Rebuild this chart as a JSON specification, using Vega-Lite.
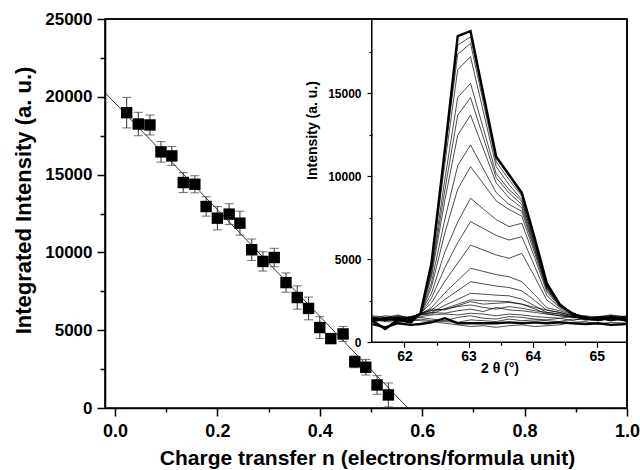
{
"$schema":"https://vega.github.io/schema/vega-lite/v6.json",
"width":522,"height":389,
"autosize":{"type":"none"},
"padding":{"left":105,"top":19,"right":13,"bottom":62},
"background":"white",
"config":{
 "view":{"stroke":"black","strokeWidth":1.6},
 "font":"Liberation Sans",
 "axis":{"labelFont":"Liberation Sans","labelFontWeight":"bold","titleFont":"Liberation Sans","titleFontWeight":"bold","labelColor":"black","titleColor":"black","tickColor":"black","tickWidth":1.5,"domain":false,"domainColor":"black","domainWidth":1.6,"grid":false,"labelFlush":false,"labelOverlap":false}
},
"datasets":{
 "main":[
  {"n":0.0228,"I":18980,"e":980},{"n":0.0455,"I":18250,"e":750},{"n":0.0683,"I":18190,"e":640},{"n":0.0898,"I":16460,"e":660},
  {"n":0.111,"I":16200,"e":610},{"n":0.1333,"I":14490,"e":640},{"n":0.156,"I":14380,"e":550},{"n":0.178,"I":12950,"e":620},
  {"n":0.2,"I":12200,"e":750},{"n":0.223,"I":12460,"e":670},{"n":0.244,"I":11880,"e":770},{"n":0.267,"I":10170,"e":690},
  {"n":0.289,"I":9420,"e":620},{"n":0.311,"I":9670,"e":590},{"n":0.334,"I":8060,"e":620},{"n":0.356,"I":7100,"e":750},
  {"n":0.378,"I":6400,"e":730},{"n":0.4,"I":5170,"e":700},{"n":0.4215,"I":4460,"e":250},{"n":0.4455,"I":4760,"e":480},
  {"n":0.4683,"I":2970,"e":380},{"n":0.4898,"I":2620,"e":500},{"n":0.5118,"I":1480,"e":600},{"n":0.534,"I":840,"e":770}
 ],
 "fit":[{"n":-0.0195,"I":20270},{"n":0.572,"I":0}],
 "frame":[{"n":-0.0195,"n2":1.0,"I":25000,"I2":25000},{"n":1.0,"n2":1.0,"I":0,"I2":25000}],
 "iframe":[{"t":61.49,"t2":61.49,"i":0,"i2":19476},{"t":61.49,"t2":65.47,"i":0,"i2":0}],
 "xrd":[
{"c":1,"t":61.5,"i":1100},{"c":1,"t":61.7,"i":900},{"c":1,"t":61.9,"i":1150},{"c":1,"t":62.1,"i":1050},{"c":1,"t":62.25,"i":1100},{"c":1,"t":62.42,"i":1200},{"c":1,"t":62.63,"i":1450},{"c":1,"t":62.83,"i":1150},{"c":1,"t":63.03,"i":1150},{"c":1,"t":63.23,"i":1150},{"c":1,"t":63.43,"i":1150},{"c":1,"t":63.63,"i":1200},{"c":1,"t":63.83,"i":1150},{"c":1,"t":64.03,"i":1200},{"c":1,"t":64.22,"i":1150},{"c":1,"t":64.42,"i":1200},{"c":1,"t":64.62,"i":1150},{"c":1,"t":64.82,"i":1100},{"c":1,"t":65.02,"i":1150},{"c":1,"t":65.22,"i":1050},{"c":1,"t":65.47,"i":1100},
{"c":2,"t":61.5,"i":1500},{"c":2,"t":61.7,"i":1350},{"c":2,"t":61.9,"i":1450},{"c":2,"t":62.1,"i":1300},{"c":2,"t":62.25,"i":1400},{"c":2,"t":62.42,"i":1300},{"c":2,"t":62.63,"i":1250},{"c":2,"t":62.83,"i":1200},{"c":2,"t":63.03,"i":1350},{"c":2,"t":63.23,"i":1300},{"c":2,"t":63.43,"i":1250},{"c":2,"t":63.63,"i":1400},{"c":2,"t":63.83,"i":1300},{"c":2,"t":64.03,"i":1350},{"c":2,"t":64.22,"i":1300},{"c":2,"t":64.42,"i":1250},{"c":2,"t":64.62,"i":1400},{"c":2,"t":64.82,"i":1350},{"c":2,"t":65.02,"i":1300},{"c":2,"t":65.22,"i":1450},{"c":2,"t":65.47,"i":1350},
{"c":3,"t":61.5,"i":1200},{"c":3,"t":61.7,"i":1400},{"c":3,"t":61.9,"i":1250},{"c":3,"t":62.1,"i":1450},{"c":3,"t":62.25,"i":1500},{"c":3,"t":62.42,"i":1400},{"c":3,"t":62.63,"i":1300},{"c":3,"t":62.83,"i":1500},{"c":3,"t":63.03,"i":1600},{"c":3,"t":63.23,"i":1450},{"c":3,"t":63.43,"i":1400},{"c":3,"t":63.63,"i":1550},{"c":3,"t":63.83,"i":1500},{"c":3,"t":64.03,"i":1400},{"c":3,"t":64.22,"i":1350},{"c":3,"t":64.42,"i":1450},{"c":3,"t":64.62,"i":1300},{"c":3,"t":64.82,"i":1500},{"c":3,"t":65.02,"i":1400},{"c":3,"t":65.22,"i":1300},{"c":3,"t":65.47,"i":1450},
{"c":4,"t":61.5,"i":1600},{"c":4,"t":61.7,"i":1500},{"c":4,"t":61.9,"i":1650},{"c":4,"t":62.1,"i":1400},{"c":4,"t":62.25,"i":1550},{"c":4,"t":62.42,"i":1650},{"c":4,"t":62.63,"i":1700},{"c":4,"t":62.83,"i":1650},{"c":4,"t":63.03,"i":1750},{"c":4,"t":63.23,"i":1700},{"c":4,"t":63.43,"i":1600},{"c":4,"t":63.63,"i":1700},{"c":4,"t":63.83,"i":1650},{"c":4,"t":64.03,"i":1550},{"c":4,"t":64.22,"i":1500},{"c":4,"t":64.42,"i":1450},{"c":4,"t":64.62,"i":1550},{"c":4,"t":64.82,"i":1400},{"c":4,"t":65.02,"i":1550},{"c":4,"t":65.22,"i":1650},{"c":4,"t":65.47,"i":1500},
{"c":5,"t":61.5,"i":1350},{"c":5,"t":61.7,"i":1250},{"c":5,"t":61.9,"i":1200},{"c":5,"t":62.1,"i":1350},{"c":5,"t":62.25,"i":1300},{"c":5,"t":62.42,"i":1250},{"c":5,"t":62.63,"i":1150},{"c":5,"t":62.83,"i":1050},{"c":5,"t":63.03,"i":950},{"c":5,"t":63.23,"i":1000},{"c":5,"t":63.43,"i":900},{"c":5,"t":63.63,"i":1000},{"c":5,"t":63.83,"i":1050},{"c":5,"t":64.03,"i":950},{"c":5,"t":64.22,"i":1000},{"c":5,"t":64.42,"i":1050},{"c":5,"t":64.62,"i":1200},{"c":5,"t":64.82,"i":1250},{"c":5,"t":65.02,"i":1100},{"c":5,"t":65.22,"i":1200},{"c":5,"t":65.47,"i":1150},
{"c":6,"t":61.5,"i":1450},{"c":6,"t":61.7,"i":1600},{"c":6,"t":61.9,"i":1500},{"c":6,"t":62.1,"i":1550},{"c":6,"t":62.25,"i":1650},{"c":6,"t":62.42,"i":1800},{"c":6,"t":62.63,"i":1750},{"c":6,"t":62.83,"i":1900},{"c":6,"t":63.03,"i":2000},{"c":6,"t":63.23,"i":1850},{"c":6,"t":63.43,"i":2100},{"c":6,"t":63.63,"i":1950},{"c":6,"t":63.83,"i":1900},{"c":6,"t":64.03,"i":1800},{"c":6,"t":64.22,"i":1700},{"c":6,"t":64.42,"i":1600},{"c":6,"t":64.62,"i":1550},{"c":6,"t":64.82,"i":1600},{"c":6,"t":65.02,"i":1500},{"c":6,"t":65.22,"i":1600},{"c":6,"t":65.47,"i":1550},
{"c":7,"t":61.5,"i":1300},{"c":7,"t":61.7,"i":1450},{"c":7,"t":61.9,"i":1400},{"c":7,"t":62.1,"i":1500},{"c":7,"t":62.25,"i":1700},{"c":7,"t":62.42,"i":1900},{"c":7,"t":62.63,"i":2000},{"c":7,"t":62.83,"i":2150},{"c":7,"t":63.03,"i":2250},{"c":7,"t":63.23,"i":2100},{"c":7,"t":63.43,"i":2000},{"c":7,"t":63.63,"i":2150},{"c":7,"t":63.83,"i":2050},{"c":7,"t":64.03,"i":1900},{"c":7,"t":64.22,"i":1800},{"c":7,"t":64.42,"i":1700},{"c":7,"t":64.62,"i":1500},{"c":7,"t":64.82,"i":1450},{"c":7,"t":65.02,"i":1550},{"c":7,"t":65.22,"i":1400},{"c":7,"t":65.47,"i":1500},
{"c":8,"t":61.5,"i":1550},{"c":8,"t":61.7,"i":1400},{"c":8,"t":61.9,"i":1600},{"c":8,"t":62.1,"i":1450},{"c":8,"t":62.25,"i":1700},{"c":8,"t":62.42,"i":2000},{"c":8,"t":62.63,"i":1950},{"c":8,"t":62.83,"i":2200},{"c":8,"t":63.03,"i":2450},{"c":8,"t":63.23,"i":2300},{"c":8,"t":63.43,"i":2350},{"c":8,"t":63.63,"i":2400},{"c":8,"t":63.83,"i":2300},{"c":8,"t":64.03,"i":2100},{"c":8,"t":64.22,"i":1950},{"c":8,"t":64.42,"i":1800},{"c":8,"t":64.62,"i":1600},{"c":8,"t":64.82,"i":1550},{"c":8,"t":65.02,"i":1450},{"c":8,"t":65.22,"i":1600},{"c":8,"t":65.47,"i":1450},
{"c":9,"t":61.5,"i":1400},{"c":9,"t":61.7,"i":1300},{"c":9,"t":61.9,"i":1450},{"c":9,"t":62.1,"i":1350},{"c":9,"t":62.25,"i":1650},{"c":9,"t":62.42,"i":1710},{"c":9,"t":62.63,"i":2030},{"c":9,"t":62.83,"i":2290},{"c":9,"t":63.03,"i":2550},{"c":9,"t":63.23,"i":2510},{"c":9,"t":63.43,"i":2480},{"c":9,"t":63.63,"i":2450},{"c":9,"t":63.83,"i":2300},{"c":9,"t":64.03,"i":2010},{"c":9,"t":64.22,"i":1720},{"c":9,"t":64.42,"i":1600},{"c":9,"t":64.62,"i":1500},{"c":9,"t":64.82,"i":1450},{"c":9,"t":65.02,"i":1350},{"c":9,"t":65.22,"i":1500},{"c":9,"t":65.47,"i":1400},
{"c":10,"t":61.5,"i":1250},{"c":10,"t":61.7,"i":1400},{"c":10,"t":61.9,"i":1300},{"c":10,"t":62.1,"i":1500},{"c":10,"t":62.25,"i":1700},{"c":10,"t":62.42,"i":1790},{"c":10,"t":62.63,"i":2230},{"c":10,"t":62.83,"i":2590},{"c":10,"t":63.03,"i":2950},{"c":10,"t":63.23,"i":2900},{"c":10,"t":63.43,"i":2840},{"c":10,"t":63.63,"i":2800},{"c":10,"t":63.83,"i":2600},{"c":10,"t":64.03,"i":2200},{"c":10,"t":64.22,"i":1800},{"c":10,"t":64.42,"i":1700},{"c":10,"t":64.62,"i":1550},{"c":10,"t":64.82,"i":1350},{"c":10,"t":65.02,"i":1500},{"c":10,"t":65.22,"i":1300},{"c":10,"t":65.47,"i":1400},
{"c":11,"t":61.5,"i":1350},{"c":11,"t":61.7,"i":1500},{"c":11,"t":61.9,"i":1400},{"c":11,"t":62.1,"i":1300},{"c":11,"t":62.25,"i":1750},{"c":11,"t":62.42,"i":1930},{"c":11,"t":62.63,"i":2580},{"c":11,"t":62.83,"i":3110},{"c":11,"t":63.03,"i":3650},{"c":11,"t":63.23,"i":3520},{"c":11,"t":63.43,"i":3390},{"c":11,"t":63.63,"i":3300},{"c":11,"t":63.83,"i":3100},{"c":11,"t":64.03,"i":2520},{"c":11,"t":64.22,"i":1930},{"c":11,"t":64.42,"i":1800},{"c":11,"t":64.62,"i":1600},{"c":11,"t":64.82,"i":1500},{"c":11,"t":65.02,"i":1400},{"c":11,"t":65.22,"i":1550},{"c":11,"t":65.47,"i":1350},
{"c":12,"t":61.5,"i":1500},{"c":12,"t":61.7,"i":1350},{"c":12,"t":61.9,"i":1550},{"c":12,"t":62.1,"i":1400},{"c":12,"t":62.25,"i":1700},{"c":12,"t":62.42,"i":2090},{"c":12,"t":62.63,"i":2980},{"c":12,"t":62.83,"i":3720},{"c":12,"t":63.03,"i":4460},{"c":12,"t":63.23,"i":4270},{"c":12,"t":63.43,"i":4080},{"c":12,"t":63.63,"i":3950},{"c":12,"t":63.83,"i":3650},{"c":12,"t":64.03,"i":2870},{"c":12,"t":64.22,"i":2080},{"c":12,"t":64.42,"i":1900},{"c":12,"t":64.62,"i":1650},{"c":12,"t":64.82,"i":1550},{"c":12,"t":65.02,"i":1300},{"c":12,"t":65.22,"i":1450},{"c":12,"t":65.47,"i":1600},
{"c":13,"t":61.5,"i":1300},{"c":13,"t":61.7,"i":1450},{"c":13,"t":61.9,"i":1350},{"c":13,"t":62.1,"i":1500},{"c":13,"t":62.25,"i":1750},{"c":13,"t":62.42,"i":2370},{"c":13,"t":62.63,"i":3680},{"c":13,"t":62.83,"i":4770},{"c":13,"t":63.03,"i":5860},{"c":13,"t":63.23,"i":5560},{"c":13,"t":63.43,"i":5260},{"c":13,"t":63.63,"i":5060},{"c":13,"t":63.83,"i":5360},{"c":13,"t":64.03,"i":3950},{"c":13,"t":64.22,"i":2540},{"c":13,"t":64.42,"i":2000},{"c":13,"t":64.62,"i":1700},{"c":13,"t":64.82,"i":1400},{"c":13,"t":65.02,"i":1550},{"c":13,"t":65.22,"i":1450},{"c":13,"t":65.47,"i":1300},
{"c":14,"t":61.5,"i":1450},{"c":14,"t":61.7,"i":1300},{"c":14,"t":61.9,"i":1500},{"c":14,"t":62.1,"i":1350},{"c":14,"t":62.25,"i":1700},{"c":14,"t":62.42,"i":2650},{"c":14,"t":62.63,"i":4500},{"c":14,"t":62.83,"i":6000},{"c":14,"t":63.03,"i":7270},{"c":14,"t":63.23,"i":6860},{"c":14,"t":63.43,"i":6440},{"c":14,"t":63.63,"i":6160},{"c":14,"t":63.83,"i":6360},{"c":14,"t":64.03,"i":4590},{"c":14,"t":64.22,"i":2810},{"c":14,"t":64.42,"i":2100},{"c":14,"t":64.62,"i":1750},{"c":14,"t":64.82,"i":1500},{"c":14,"t":65.02,"i":1400},{"c":14,"t":65.22,"i":1350},{"c":14,"t":65.47,"i":1500},
{"c":15,"t":61.5,"i":1350},{"c":15,"t":61.7,"i":1500},{"c":15,"t":61.9,"i":1400},{"c":15,"t":62.1,"i":1450},{"c":15,"t":62.25,"i":1750},{"c":15,"t":62.42,"i":2940},{"c":15,"t":62.63,"i":5450},{"c":15,"t":62.83,"i":7240},{"c":15,"t":63.03,"i":8680},{"c":15,"t":63.23,"i":8030},{"c":15,"t":63.43,"i":7390},{"c":15,"t":63.63,"i":6970},{"c":15,"t":63.83,"i":7170},{"c":15,"t":64.03,"i":5100},{"c":15,"t":64.22,"i":3030},{"c":15,"t":64.42,"i":2150},{"c":15,"t":64.62,"i":1750},{"c":15,"t":64.82,"i":1450},{"c":15,"t":65.02,"i":1500},{"c":15,"t":65.22,"i":1400},{"c":15,"t":65.47,"i":1450},
{"c":16,"t":61.5,"i":1400},{"c":16,"t":61.7,"i":1350},{"c":16,"t":61.9,"i":1550},{"c":16,"t":62.1,"i":1400},{"c":16,"t":62.25,"i":1700},{"c":16,"t":62.42,"i":3320},{"c":16,"t":62.63,"i":6590},{"c":16,"t":62.83,"i":9220},{"c":16,"t":63.03,"i":10580},{"c":16,"t":63.23,"i":9550},{"c":16,"t":63.43,"i":8520},{"c":16,"t":63.63,"i":8000},{"c":16,"t":63.83,"i":7600},{"c":16,"t":64.03,"i":5380},{"c":16,"t":64.22,"i":3150},{"c":16,"t":64.42,"i":2200},{"c":16,"t":64.62,"i":1750},{"c":16,"t":64.82,"i":1550},{"c":16,"t":65.02,"i":1400},{"c":16,"t":65.22,"i":1500},{"c":16,"t":65.47,"i":1350},
{"c":17,"t":61.5,"i":1300},{"c":17,"t":61.7,"i":1450},{"c":17,"t":61.9,"i":1350},{"c":17,"t":62.1,"i":1550},{"c":17,"t":62.25,"i":1700},{"c":17,"t":62.42,"i":3580},{"c":17,"t":62.63,"i":7420},{"c":17,"t":62.83,"i":10640},{"c":17,"t":63.03,"i":11890},{"c":17,"t":63.23,"i":10450},{"c":17,"t":63.43,"i":9020},{"c":17,"t":63.63,"i":8300},{"c":17,"t":63.83,"i":7900},{"c":17,"t":64.03,"i":5570},{"c":17,"t":64.22,"i":3230},{"c":17,"t":64.42,"i":2200},{"c":17,"t":64.62,"i":1800},{"c":17,"t":64.82,"i":1400},{"c":17,"t":65.02,"i":1500},{"c":17,"t":65.22,"i":1600},{"c":17,"t":65.47,"i":1400},
{"c":18,"t":61.5,"i":1450},{"c":18,"t":61.7,"i":1350},{"c":18,"t":61.9,"i":1500},{"c":18,"t":62.1,"i":1300},{"c":18,"t":62.25,"i":1750},{"c":18,"t":62.42,"i":3940},{"c":18,"t":62.63,"i":8570},{"c":18,"t":62.83,"i":12470},{"c":18,"t":63.03,"i":13690},{"c":18,"t":63.23,"i":11650},{"c":18,"t":63.43,"i":9600},{"c":18,"t":63.63,"i":8700},{"c":18,"t":63.83,"i":8100},{"c":18,"t":64.03,"i":5690},{"c":18,"t":64.22,"i":3280},{"c":18,"t":64.42,"i":2250},{"c":18,"t":64.62,"i":1750},{"c":18,"t":64.82,"i":1500},{"c":18,"t":65.02,"i":1350},{"c":18,"t":65.22,"i":1450},{"c":18,"t":65.47,"i":1550},
{"c":19,"t":61.5,"i":1350},{"c":19,"t":61.7,"i":1500},{"c":19,"t":61.9,"i":1450},{"c":19,"t":62.1,"i":1400},{"c":19,"t":62.25,"i":1700},{"c":19,"t":62.42,"i":4150},{"c":19,"t":62.63,"i":9180},{"c":19,"t":62.83,"i":13680},{"c":19,"t":63.03,"i":14740},{"c":19,"t":63.23,"i":12330},{"c":19,"t":63.43,"i":9920},{"c":19,"t":63.63,"i":9000},{"c":19,"t":63.83,"i":8300},{"c":19,"t":64.03,"i":5820},{"c":19,"t":64.22,"i":3340},{"c":19,"t":64.42,"i":2250},{"c":19,"t":64.62,"i":1800},{"c":19,"t":64.82,"i":1350},{"c":19,"t":65.02,"i":1500},{"c":19,"t":65.22,"i":1400},{"c":19,"t":65.47,"i":1300},
{"c":20,"t":61.5,"i":1500},{"c":20,"t":61.7,"i":1400},{"c":20,"t":61.9,"i":1300},{"c":20,"t":62.1,"i":1450},{"c":20,"t":62.25,"i":1750},{"c":20,"t":62.42,"i":4320},{"c":20,"t":62.63,"i":9820},{"c":20,"t":62.83,"i":14750},{"c":20,"t":63.03,"i":15600},{"c":20,"t":63.23,"i":12880},{"c":20,"t":63.43,"i":10160},{"c":20,"t":63.63,"i":9200},{"c":20,"t":63.83,"i":8500},{"c":20,"t":64.03,"i":5950},{"c":20,"t":64.22,"i":3390},{"c":20,"t":64.42,"i":2250},{"c":20,"t":64.62,"i":1750},{"c":20,"t":64.82,"i":1500},{"c":20,"t":65.02,"i":1450},{"c":20,"t":65.22,"i":1300},{"c":20,"t":65.47,"i":1500},
{"c":21,"t":61.5,"i":1300},{"c":21,"t":61.7,"i":1450},{"c":21,"t":61.9,"i":1500},{"c":21,"t":62.1,"i":1350},{"c":21,"t":62.25,"i":1750},{"c":21,"t":62.42,"i":4550},{"c":21,"t":62.63,"i":10770},{"c":21,"t":62.83,"i":16420},{"c":21,"t":63.03,"i":17210},{"c":21,"t":63.23,"i":13890},{"c":21,"t":63.43,"i":10580},{"c":21,"t":63.63,"i":9500},{"c":21,"t":63.83,"i":8600},{"c":21,"t":64.03,"i":6010},{"c":21,"t":64.22,"i":3420},{"c":21,"t":64.42,"i":2300},{"c":21,"t":64.62,"i":1750},{"c":21,"t":64.82,"i":1450},{"c":21,"t":65.02,"i":1350},{"c":21,"t":65.22,"i":1550},{"c":21,"t":65.47,"i":1400},
{"c":22,"t":61.5,"i":1450},{"c":22,"t":61.7,"i":1300},{"c":22,"t":61.9,"i":1400},{"c":22,"t":62.1,"i":1500},{"c":22,"t":62.25,"i":1750},{"c":22,"t":62.42,"i":4650},{"c":22,"t":62.63,"i":11400},{"c":22,"t":62.83,"i":17350},{"c":22,"t":63.03,"i":18010},{"c":22,"t":63.23,"i":14440},{"c":22,"t":63.43,"i":10870},{"c":22,"t":63.63,"i":9800},{"c":22,"t":63.83,"i":8800},{"c":22,"t":64.03,"i":6140},{"c":22,"t":64.22,"i":3470},{"c":22,"t":64.42,"i":2300},{"c":22,"t":64.62,"i":1700},{"c":22,"t":64.82,"i":1400},{"c":22,"t":65.02,"i":1500},{"c":22,"t":65.22,"i":1350},{"c":22,"t":65.47,"i":1450},
{"c":23,"t":61.5,"i":1350},{"c":23,"t":61.7,"i":1450},{"c":23,"t":61.9,"i":1300},{"c":23,"t":62.1,"i":1400},{"c":23,"t":62.25,"i":1700},{"c":23,"t":62.42,"i":4700},{"c":23,"t":62.63,"i":11500},{"c":23,"t":62.83,"i":17900},{"c":23,"t":63.03,"i":18400},{"c":23,"t":63.23,"i":14750},{"c":23,"t":63.43,"i":11090},{"c":23,"t":63.63,"i":10000},{"c":23,"t":63.83,"i":8900},{"c":23,"t":64.03,"i":6200},{"c":23,"t":64.22,"i":3500},{"c":23,"t":64.42,"i":2300},{"c":23,"t":64.62,"i":1700},{"c":23,"t":64.82,"i":1500},{"c":23,"t":65.02,"i":1300},{"c":23,"t":65.22,"i":1450},{"c":23,"t":65.47,"i":1400},
{"c":24,"t":61.5,"i":1300},{"c":24,"t":61.7,"i":800},{"c":24,"t":61.9,"i":1350},{"c":24,"t":62.1,"i":1200},{"c":24,"t":62.25,"i":1750},{"c":24,"t":62.42,"i":4740},{"c":24,"t":62.63,"i":11600},{"c":24,"t":62.83,"i":18450},{"c":24,"t":63.03,"i":18750},{"c":24,"t":63.23,"i":14960},{"c":24,"t":63.43,"i":11180},{"c":24,"t":63.63,"i":10100},{"c":24,"t":63.83,"i":9010},{"c":24,"t":64.03,"i":6300},{"c":24,"t":64.22,"i":3550},{"c":24,"t":64.42,"i":2300},{"c":24,"t":64.62,"i":1700},{"c":24,"t":64.82,"i":1450},{"c":24,"t":65.02,"i":1350},{"c":24,"t":65.22,"i":1500},{"c":24,"t":65.47,"i":1300}
 ]
},
"layer":[
 {
  "encoding":{
   "x":{"field":"n","type":"quantitative",
    "scale":{"domain":[-0.0195,1.0],"nice":false,"zero":false},
    "axis":{"orient":"bottom","domain":true,"values":[0,0.1,0.2,0.3,0.4,0.5,0.6,0.7,0.8,0.9,1.0],
     "labelExpr":"round(datum.value*10) % 2 == 0 ? format(datum.value, '.1f') : ''",
     "tickSize":{"condition":{"test":"round(datum.value*10) % 2 == 0","value":8},"value":4},
     "labelFontSize":18,"labelPadding":6,
     "title":"Charge transfer n (electrons/formula unit)","titleFontSize":21,
     "titleX":262,"titleY":56,"titleBaseline":"alphabetic","titleAlign":"center"}},
   "y":{"field":"I","type":"quantitative",
    "scale":{"domain":[0,25000],"nice":false},
    "axis":{"orient":"left","domain":true,"values":[0,2500,5000,7500,10000,12500,15000,17500,20000,22500,25000],
     "labelExpr":"datum.value % 5000 == 0 ? format(datum.value, 'd') : ''",
     "tickSize":{"condition":{"test":"datum.value % 5000 == 0","value":8},"value":5},
     "labelFontSize":17,"labelPadding":5,
     "title":"Integrated Intensity (a. u.)","titleFontSize":22,
     "titleX":-70,"titleY":181,"titleBaseline":"bottom","titleAlign":"center","titleAngle":270}}
  },
  "layer":[
   {"data":{"name":"fit"},"mark":{"type":"line","color":"black","strokeWidth":0.8}},
   {"data":{"name":"main"},"mark":{"type":"errorbar","ticks":true,"size":9,"thickness":1.1,"color":"#444444"},
    "encoding":{"yError":{"field":"e"}}},
   {"data":{"name":"main"},"mark":{"type":"square","size":130,"color":"black","filled":true,"opacity":1}},
   {"data":{"name":"frame"},"mark":{"type":"rule","color":"black","strokeWidth":1.6},
    "encoding":{"x2":{"field":"n2"},"y2":{"field":"I2"}}}
  ]
 },
 {
  "data":{"name":"xrd"},
  "encoding":{
   "x":{"field":"t","type":"quantitative",
    "scale":{"domain":[57.33,65.47],"nice":false,"zero":false},
    "axis":{"orient":"bottom","offset":-65.7,"values":[62,62.5,63,63.5,64,64.5,65],
     "labelExpr":"datum.value % 1 == 0 ? format(datum.value, 'd') : ''",
     "tickSize":{"condition":{"test":"datum.value % 1 == 0","value":5},"value":3},
     "tickWidth":1.2,"labelFontSize":14,"labelPadding":2,
     "title":"2 θ (°)","titleFontSize":14,"titleX":394.5,"titleY":30,"titleBaseline":"alphabetic","titleAlign":"center"}},
   "y":{"field":"i","type":"quantitative",
    "scale":{"domain":[-3958,19476],"nice":false,"zero":false},
    "axis":{"orient":"left","offset":-267,"values":[0,2500,5000,7500,10000,12500,15000,17500],
     "labelExpr":"datum.value % 5000 == 0 ? format(datum.value, 'd') : ''",
     "tickSize":{"condition":{"test":"datum.value % 5000 == 0","value":5},"value":3},
     "tickWidth":1.2,"labelFontSize":12,"labelPadding":6,
     "title":"Intensity (a. u.)","titleFontSize":14,
     "titleX":-53,"titleY":111,"titleBaseline":"bottom","titleAlign":"center","titleAngle":270}}
  },
  "layer":[
   {"transform":[{"filter":"datum.c != 1 && datum.c != 24"}],
    "mark":{"type":"line","color":"black","strokeWidth":0.7},
    "encoding":{"detail":{"field":"c","type":"nominal"}}},
   {"transform":[{"filter":"datum.c == 1 || datum.c == 24"}],
    "mark":{"type":"line","color":"black","strokeWidth":2.4},
    "encoding":{"detail":{"field":"c","type":"nominal"}}},
   {"data":{"name":"iframe"},"mark":{"type":"rule","color":"black","strokeWidth":1.5},
    "encoding":{"x2":{"field":"t2"},"y2":{"field":"i2"}}}
  ]
 }
],
"resolve":{"scale":{"x":"independent","y":"independent"},"axis":{"x":"independent","y":"independent"}}
}
